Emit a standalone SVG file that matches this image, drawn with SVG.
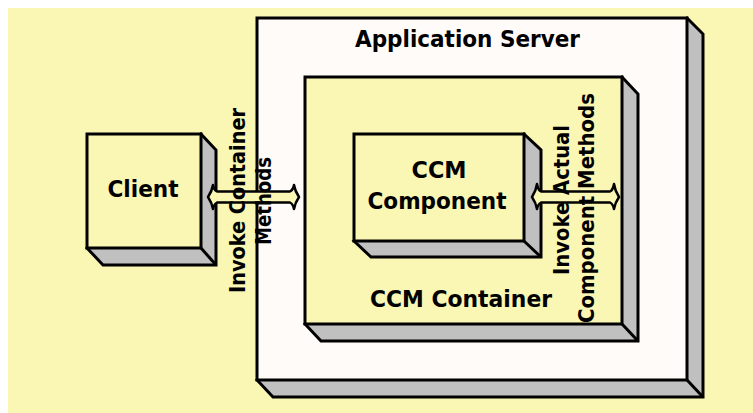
<svg xmlns="http://www.w3.org/2000/svg" width="753" height="413" viewBox="0 0 753 413">
  <style>
    .front { stroke: #000; stroke-width: 3; stroke-linejoin: miter; }
    .side { fill: #C0C0C0; stroke: #000; stroke-width: 3; stroke-linejoin: miter; }
    .yel { fill: #FAF6B4; }
    .white { fill: #FFFBF8; }
    .lbl { font-family: "DejaVu Sans", Verdana, sans-serif; font-weight: bold; fill: #000; text-anchor: middle; }
    .arrow { fill: #FAF6B4; stroke: #000; stroke-width: 2.5; stroke-linejoin: round; }
  </style>
  <rect x="8" y="8" width="745" height="405" fill="#FAF6B4"/>

  <g id="application-server">
    <path class="side" d="M687,18 L703,34 L703,397 L273,397 L257,380 Z"/>
    <line x1="687" y1="380" x2="703" y2="397" stroke="#000" stroke-width="3"/>
    <rect class="front white" x="257" y="18" width="430" height="362"/>
    <text class="lbl" x="467.5" y="47" font-size="22.5" textLength="225" lengthAdjust="spacingAndGlyphs">Application Server</text>
  </g>

  <g id="ccm-container">
    <path class="side" d="M622,77 L638,94 L638,341 L321,341 L305,324 Z"/>
    <line x1="622" y1="324" x2="638" y2="341" stroke="#000" stroke-width="3"/>
    <rect class="front yel" x="305" y="77" width="317" height="247"/>
    <text class="lbl" x="461" y="307" font-size="22.5" textLength="182" lengthAdjust="spacingAndGlyphs">CCM Container</text>
  </g>

  <g id="ccm-component">
    <path class="side" d="M524,134 L541,150 L541,257 L371,257 L354,241 Z"/>
    <line x1="524" y1="241" x2="541" y2="257" stroke="#000" stroke-width="3"/>
    <rect class="front yel" x="354" y="134" width="170" height="107"/>
    <text class="lbl" x="439" y="178" font-size="22.5" textLength="55" lengthAdjust="spacingAndGlyphs">CCM</text>
    <text class="lbl" x="437" y="209" font-size="22.5" textLength="139" lengthAdjust="spacingAndGlyphs">Component</text>
  </g>

  <g id="client">
    <path class="side" d="M201,134 L216,150 L216,265 L103,265 L87,248 Z"/>
    <line x1="201" y1="248" x2="216" y2="265" stroke="#000" stroke-width="3"/>
    <rect class="front yel" x="87" y="134" width="114" height="114"/>
    <text class="lbl" x="143" y="197" font-size="22.5" textLength="71" lengthAdjust="spacingAndGlyphs">Client</text>
  </g>

  <g id="connectors">
    <path class="arrow" d="M208,197 Q212,191 213,185 Q214,190 217,191.5 L290,191.5 Q293,190 294,185 Q295,191 299,197 Q295,203 294,209 Q293,204 290,202.5 L217,202.5 Q214,204 213,209 Q212,203 208,197 Z"/>
    <path class="arrow" d="M532,197 Q536,191 537,184 Q538,190 541,191.5 L610,191.5 Q613,190 614,184 Q615,191 619,197 Q615,203 614,209 Q613,204 610,202.5 L541,202.5 Q538,204 537,209 Q536,203 532,197 Z"/>
    <g transform="translate(245,200.5) rotate(-90)">
      <text class="lbl" x="0" y="0" font-size="21" textLength="185" lengthAdjust="spacingAndGlyphs">Invoke Container</text>
      <text class="lbl" x="-0.5" y="26" font-size="21" textLength="88" lengthAdjust="spacingAndGlyphs">Methods</text>
    </g>
    <g transform="translate(569,200) rotate(-90)">
      <text class="lbl" x="0" y="0" font-size="21" textLength="150" lengthAdjust="spacingAndGlyphs">Invoke Actual</text>
      <text class="lbl" x="-8" y="25" font-size="21" textLength="230" lengthAdjust="spacingAndGlyphs">Component Methods</text>
    </g>
  </g>
</svg>
